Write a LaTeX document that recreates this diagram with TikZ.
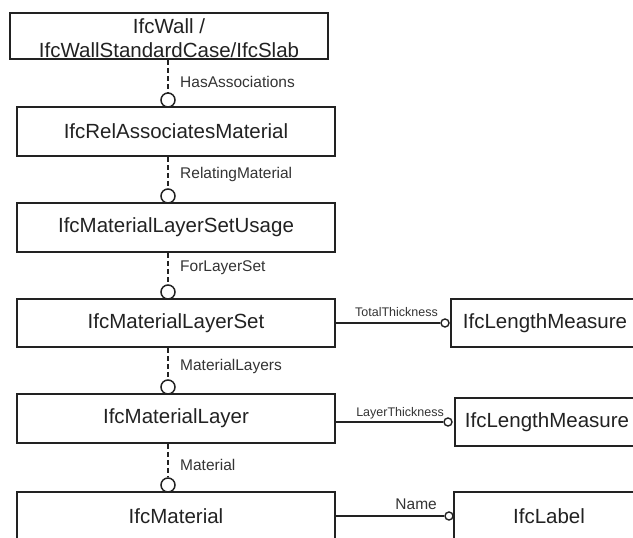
\documentclass[tikz,border=0pt]{standalone}
\usepackage{fontspec}
\setmainfont{Liberation Sans}
\definecolor{ink}{HTML}{222222}
\definecolor{labelink}{HTML}{333333}
\begin{document}
\begin{tikzpicture}[x=1pt,y=-1pt,
  entity/.style={draw=ink, line width=1.5pt, rectangle, inner sep=0pt,
    minimum width=318pt, text=ink, align=center,
    font=\fontsize{20.5}{23.5}\selectfont},
  valuebox/.style={entity, minimum width=188pt, minimum height=48pt},
  inverse/.style={draw=ink, line width=1.5pt, circle, fill=white,
    minimum size=14pt, inner sep=0pt},
  attrend/.style={draw=ink, line width=1.4pt, circle, fill=white,
    minimum size=8pt, inner sep=0pt},
  relline/.style={draw=ink, line width=1.5pt, dash pattern=on 5pt off 3pt},
  attrline/.style={draw=ink, line width=1.5pt},
  rellabel/.style={anchor=west, inner sep=0pt, text=labelink,
    font=\fontsize{15.5}{17}\selectfont},
  smalllabel/.style={anchor=east, inner sep=0pt, text=labelink,
    font=\fontsize{12.5}{14}\selectfont}
]
\useasboundingbox (0,0) rectangle (633,538);

% entity boxes of the main chain
\node[entity, minimum height=46pt] (wall) at (169,36) {};
\node[text=ink, align=center, inner sep=0pt,
  font=\fontsize{20.5}{24}\selectfont] (walltext) at (169,38.5)
  {IfcWall /\\IfcWallStandardCase/IfcSlab};
\node[entity, minimum height=49pt] (relassoc) at (176,131.5) {IfcRelAssociatesMaterial};
\node[entity, minimum height=49pt] (usage) at (176,227.5) {IfcMaterialLayerSetUsage};
\node[entity, minimum height=48pt] (layerset) at (176,323) {IfcMaterialLayerSet};
\node[entity, minimum height=49pt] (layer) at (176,418.5) {IfcMaterialLayer};
\node[entity, minimum height=49pt] (material) at (176,516.5) {IfcMaterial};

% attribute value types
\node[valuebox] (lenA) at (545,323) {IfcLengthMeasure};
\node[valuebox, minimum width=184pt] (lenB) at (547,422) {IfcLengthMeasure};
\node[valuebox, minimum width=190pt] (label) at (549,516) {IfcLabel};

% inverse relationship markers above each entity
\node[inverse] (c1) at (168,100) {};
\node[inverse] (c2) at (168,196) {};
\node[inverse] (c3) at (168,292) {};
\node[inverse] (c4) at (168,387) {};
\node[inverse] (c5) at (168,485) {};

\draw[relline] (wall.south -| c1) -- (c1.north);
\draw[relline] (relassoc.south -| c2) -- (c2.north);
\draw[relline] (usage.south -| c3) -- (c3.north);
\draw[relline] (layerset.south -| c4) -- (c4.north);
\draw[relline] (layer.south -| c5) -- (c5.north);

\node[rellabel] (l1) at (180,82) {HasAssociations};
\node[rellabel] (l2) at (180,174) {RelatingMaterial};
\node[rellabel] (l3) at (180,268) {ForLayerSet};
\node[rellabel] (l4) at (180,366) {MaterialLayers};
\node[rellabel] (l5) at (180,465) {Material};

% attribute connectors
\node[attrend] (a1) at (445,323) {};
\node[attrend] (a2) at (448,422) {};
\node[attrend] (a3) at (449,516) {};

\draw[attrline] (layerset.east |- a1) -- (a1.west);
\draw[attrline] (layer.east |- a2) -- (a2.west);
\draw[attrline] (material.east |- a3) -- (a3.west);

\node[smalllabel] (t1) at (438,312) {TotalThickness};
\node[smalllabel] (t2) at (444,413) {LayerThickness};
\node[smalllabel, font=\fontsize{15.5}{17}\selectfont] (t3) at (437,504) {Name};
\end{tikzpicture}
\end{document}
